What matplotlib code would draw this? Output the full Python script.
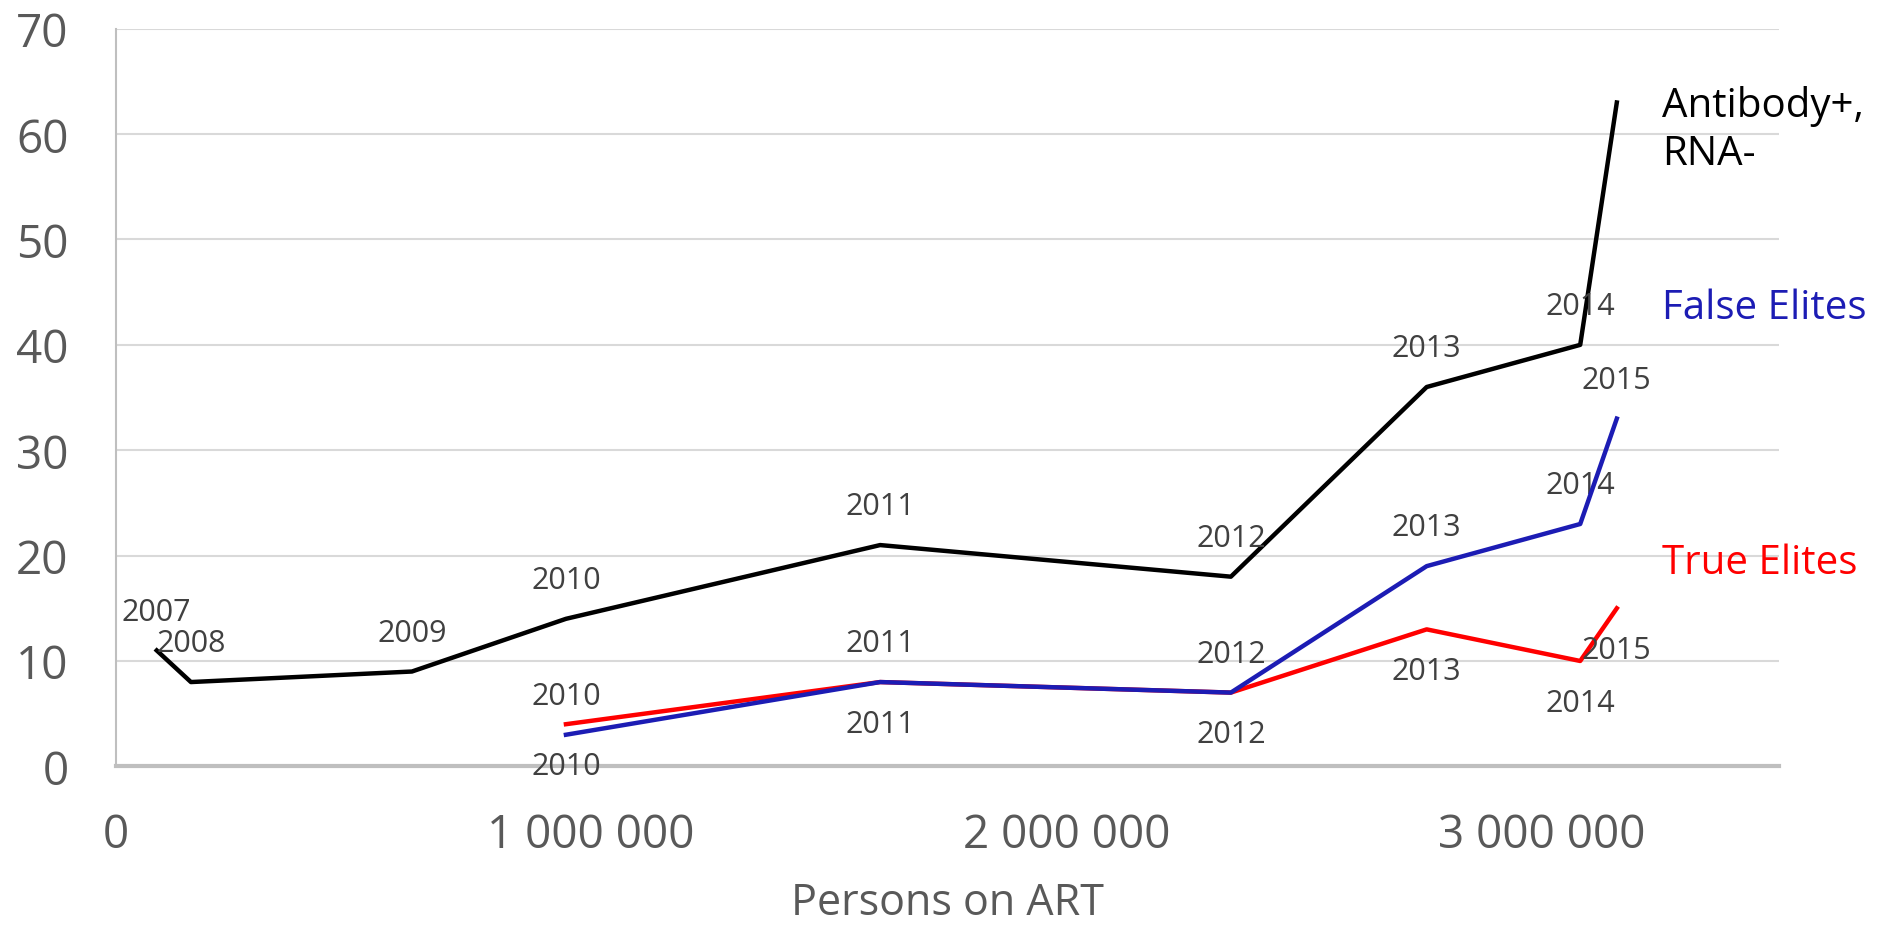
import matplotlib
matplotlib.use("Agg")
import matplotlib.pyplot as plt
from matplotlib.ticker import FuncFormatter

years_black = ["2007", "2008", "2009", "2010", "2011", "2012", "2013", "2014", ""]
art_black = [86000, 158000, 623000, 947000, 1608000, 2346000, 2758000, 3081000, 3158000]
antibody_rna = [11, 8, 9, 14, 21, 18, 36, 40, 63]

years_elite = ["2010", "2011", "2012", "2013", "2014", "2015"]
art_elite = [947000, 1608000, 2346000, 2758000, 3081000, 3158000]
false_elites = [3, 8, 7, 19, 23, 33]
true_elites = [4, 8, 7, 13, 10, 15]

x_ticks = [0, 1000000, 2000000, 3000000]
y_ticks = [0, 10, 20, 30, 40, 50, 60, 70]

plt.rcParams['font.family'] = ['Open Sans', 'DejaVu Sans']

fig = plt.figure(figsize=(18.99, 9.29), dpi=100)
ax = fig.add_axes([0.061, 0.174, 0.876, 0.794])

lw = 3.2
ax.plot(art_black, antibody_rna, color="black", lw=lw, zorder=3)
ax.plot(art_elite, true_elites, color="#ff0000", lw=lw, zorder=3)
ax.plot(art_elite, false_elites, color="#1c1cb4", lw=lw, zorder=4)

lab_col = "#404040"
fs_lab = 22
for x, y, t in zip(art_black, antibody_rna, years_black):
    if t:
        ax.annotate(t, (x, y), xytext=(0, 28), textcoords="offset points",
                    ha="center", va="center", fontsize=fs_lab, color=lab_col)
for x, y, t in zip(art_elite, false_elites, years_elite):
    ax.annotate(t, (x, y), xytext=(0, 28), textcoords="offset points",
                ha="center", va="center", fontsize=fs_lab, color=lab_col)
for x, y, t in zip(art_elite, true_elites, years_elite):
    ax.annotate(t, (x, y), xytext=(0, -30), textcoords="offset points",
                ha="center", va="center", fontsize=fs_lab, color=lab_col)

fs_ser = 29
ax.text(3254000, 62.7, "Antibody+,", color="black", fontsize=fs_ser, va="center", ha="left")
ax.text(3254000, 58.1, "RNA-", color="black", fontsize=fs_ser, va="center", ha="left")
ax.text(3254000, 43.5, "False Elites", color="#1c1cb4", fontsize=fs_ser, va="center", ha="left")
ax.text(3254000, 19.3, "True Elites", color="#ff0000", fontsize=fs_ser, va="center", ha="left")

ax.set_xlim(0, 3500000)
ax.set_ylim(0, 70)
ax.set_xticks(x_ticks)
ax.set_yticks(y_ticks)
ax.xaxis.set_major_formatter(FuncFormatter(lambda v, p: f"{int(v):,}".replace(",", " ")))
ax.tick_params(axis="both", length=0, labelsize=33, labelcolor="#595959")
ax.tick_params(axis="x", pad=33)
ax.tick_params(axis="y", pad=34)
ax.grid(axis="y", color="#d9d9d9", lw=1.5)
ax.set_axisbelow(True)
for s in ["top", "right"]:
    ax.spines[s].set_visible(False)
ax.spines["left"].set_color("#bfbfbf")
ax.spines["left"].set_linewidth(1.5)
ax.spines["bottom"].set_color("#bfbfbf")
ax.spines["bottom"].set_linewidth(3)
ax.set_xlabel("Persons on ART", fontsize=31, color="#595959", labelpad=16)

fig.savefig("out.png", dpi=100)
